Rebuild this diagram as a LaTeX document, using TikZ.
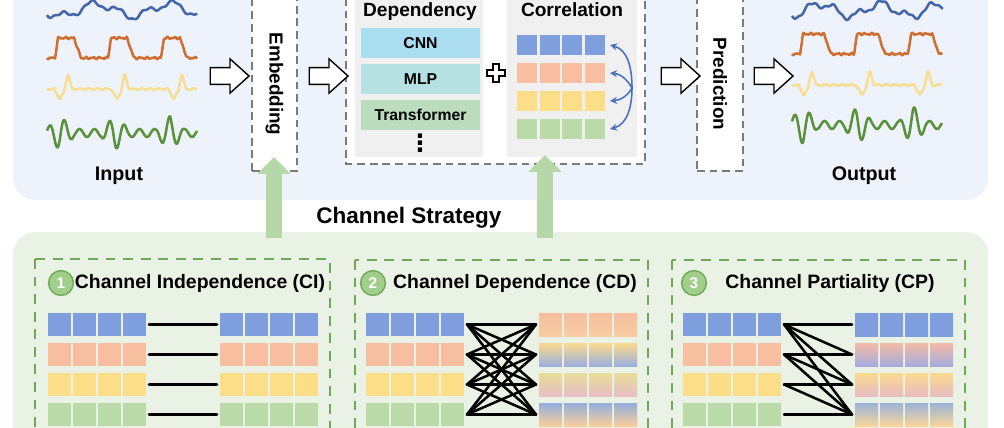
\documentclass[tikz,border=0pt]{standalone}
\usepackage{fontspec}
\setmainfont{Liberation Sans}
\newfontfamily\symfont{DejaVu Sans}
\usetikzlibrary{shapes.arrows, arrows.meta}

\definecolor{panelblue}{HTML}{EEF3FB}
\definecolor{panelgreen}{HTML}{E9F2E4}
\definecolor{subgray}{HTML}{F0F0F0}
\definecolor{cblue}{HTML}{7F9EDD}
\definecolor{corange}{HTML}{F7BE9F}
\definecolor{cyellow}{HTML}{FCDD88}
\definecolor{cgreen}{HTML}{BADBA8}
\definecolor{wblue}{HTML}{4466A8}
\definecolor{worange}{HTML}{CF6F32}
\definecolor{wyellow}{HTML}{F7DE92}
\definecolor{wgreen}{HTML}{5B913C}
\definecolor{dashgray}{HTML}{7A7A7A}
\definecolor{dashgreen}{HTML}{6FA957}
\definecolor{arrowgreen}{HTML}{B6D7A8}
\definecolor{corrblue}{HTML}{4A6FBF}
\definecolor{cnnblue}{HTML}{ABDDF1}
\definecolor{mlpteal}{HTML}{B5E1E2}
\definecolor{trgreen}{HTML}{BCDDBD}
\definecolor{numgreen}{HTML}{A2CE8C}

\newcommand\setfs[1]{\fontsize{#1}{#1}\selectfont\bfseries}

\tikzset{
  wave/.style={line width=1.8pt, line join=round},
  hollow/.style={single arrow, draw=black, fill=white, line width=1pt,
    minimum height=0.97cm, inner xsep=0pt, inner ysep=0.19cm,
    single arrow head extend=0.22cm, single arrow tip angle=84},
  dbox/.style={draw=dashgray, line width=1.4pt, dash pattern=on 5.5pt off 3.5pt},
  gbox/.style={draw=dashgreen, line width=1.6pt, dash pattern=on 7pt off 5.5pt},
  layer/.style={minimum width=2.975cm, minimum height=0.75cm, inner sep=0pt, font=\setfs{11.2}},
  garrow/.style={arrowgreen, line width=0.38cm, -{Triangle[width=0.8cm,length=0.42cm]}},
  corr/.style={corrblue, line width=1.1pt, -{Stealth[length=5pt,width=5pt]}},
  link/.style={black, line width=1.8pt, line cap=round},
  numc/.style={circle, fill=numgreen, draw=dashgreen, line width=1pt, text=white,
    minimum size=0.62cm, inner sep=0pt, font=\setfs{11}},
  title/.style={anchor=base, font=\setfs{13.8}},
}

\begin{document}
\begin{tikzpicture}[x=0.025cm, y=-0.025cm]
  \useasboundingbox (0,0) rectangle (1004,427);
  \clip (0,0) rectangle (1004,427);

  % panels
  \fill[panelblue, rounded corners=0.55cm] (13,-40) rectangle (988,200);
  \fill[panelgreen, rounded corners=0.55cm] (13,232) rectangle (988,470);
  \node[anchor=base, font=\setfs{16}] (strategy) at (409,223) {Channel Strategy};

  % input and output series
  \draw[wave, wblue] plot[domain=0:150, samples=300] ({47+\x},{10+6*sin(5*\x+20)+3.5*sin(13*\x+60)+sin(37*\x)});
  \draw[wave, worange] plot[domain=0:150, samples=300] ({47+\x},{58-20*max(0,min(1,mod(\x+45,53)/3,(26-mod(\x+45,53))/7))+0.7*sin(53*\x)+0.5*sin(89*\x)});
  \draw[wave, wyellow] plot[domain=0:150, samples=300] ({47+\x},{89+10*max(0,1-abs(mod(\x+15,57)-28)/6)-15*max(0,1-abs(mod(\x+15,57)-36)/4)+0.7*sin(41*\x)});
  \draw[wave, wgreen] plot[domain=0:150, samples=300] ({47+\x},{133-(4+13*max(0,1-abs(mod(\x+15,55)-28)/14))*sin(24*\x+30)});
  \node[anchor=base, font=\setfs{14}] (input) at (119,180) {Input};

  \draw[wave, wblue] plot[domain=0:151, samples=300] ({792+\x},{10+6*sin(6*\x+100)+3.5*sin(15*\x)+sin(41*\x)});
  \draw[wave, worange] plot[domain=0:150, samples=300] ({792+\x},{54-20*max(0,min(1,mod(\x+46,54)/3,(31-mod(\x+46,54))/7))+0.7*sin(53*\x)+0.5*sin(89*\x)});
  \draw[wave, wyellow] plot[domain=0:150, samples=300] ({792+\x},{85+10*max(0,1-abs(mod(\x+16,58)-28)/6)-14*max(0,1-abs(mod(\x+16,58)-36)/4)+0.7*sin(41*\x)});
  \draw[wave, wgreen] plot[domain=0:150, samples=300] ({792+\x},{125-(4+15*max(0,1-abs(mod(\x+17,55)-28)/14))*sin(24*\x+30)});
  \node[anchor=base, font=\setfs{14}] (output) at (864,180) {Output};

  % embedding and prediction
  \node[dbox, fill=white, minimum width=1.125cm, minimum height=5.3cm, anchor=south] (emb) at (274.5,172) {};
  \node[rotate=-90, font=\setfs{13.4}] (embtxt) at (274.5,84) {Embedding};
  \node[dbox, fill=white, minimum width=1.15cm, minimum height=5.3cm, anchor=south] (pred) at (720,172) {};
  \node[rotate=-90, font=\setfs{13.4}] (predtxt) at (720,84) {Prediction};

  % dependency and correlation
  \draw[dbox, fill=white] (346,-40) rectangle (645,164);
  \fill[subgray] (355,-40) rectangle (483,157);
  \fill[subgray] (507,-40) rectangle (637,157);
  \node[anchor=base, font=\setfs{13.6}] (dep) at (420,17) {Dependency};
  \node[anchor=base, font=\setfs{13.6}] (cor) at (572,17) {Correlation};
  \node[layer, fill=cnnblue] (cnn) at (420.5,43) {CNN};
  \node[layer, fill=mlpteal] (mlp) at (420.5,79) {MLP};
  \node[layer, fill=trgreen] (trans) at (420.5,115) {Transformer};
  \node[font=\symfont\fontsize{17}{17}\selectfont\bfseries] (dots) at (420,143) {⋮};

  \coordinate (plus) at (496,73);
  \draw[line width=1pt, fill=white] (plus) ++(-3,-9) -- ++(6,0) -- ++(0,6) -- ++(6,0) -- ++(0,6)
    -- ++(-6,0) -- ++(0,6) -- ++(-6,0) -- ++(0,-6) -- ++(-6,0) -- ++(0,-6) -- ++(6,0) -- cycle;

  \foreach \r/\c in {1/cblue,2/corange,3/cyellow,4/cgreen} {
    \foreach \i in {0,...,3}
      \fill[\c] (517+22.5*\i,7+28*\r) rectangle +(20,20);
    \coordinate (corR\r) at (610,17+28*\r);
  }
  \coordinate (hub) at (632,88);
  \draw[corr] (hub) to[out=90, in=-15] (corR1);
  \draw[corr] (hub) to[out=120, in=-5] (corR2);
  \draw[corr] (hub) to[out=-120, in=5] (corR3);
  \draw[corr] (hub) to[out=-90, in=15] (corR4);

  % flow arrows
  \node[hollow] (a1) at (225,76) {};
  \node[hollow] (a2) at (324,76) {};
  \node[hollow] (a3) at (676,76) {};
  \node[hollow] (a4) at (769,76) {};

  % channel strategies
  \draw[gbox] (35,259) rectangle (330,470);
  \draw[gbox] (355,260) rectangle (648,470);
  \draw[gbox] (672,260) rectangle (965,470);
  \node[numc] (n1) at (61,283) {1};
  \node[numc] (n2) at (373,283) {2};
  \node[numc] (n3) at (694,283) {3};
  \node[title] (t1) at (200,288) {Channel Independence (CI)};
  \node[title] (t2) at (515,288) {Channel Dependence (CD)};
  \node[title] (t3) at (830,288) {Channel Partiality (CP)};

  \foreach \r/\c in {1/cblue,2/corange,3/cyellow,4/cgreen} {
    \foreach \i in {0,...,3} {
      \fill[\c] (48+25*\i,283+30*\r) rectangle +(23,23);
      \fill[\c] (220+25*\i,283+30*\r) rectangle +(23,23);
      \fill[\c] (366+25*\i,283+30*\r) rectangle +(23,23);
      \fill[\c] (683+25*\i,283+30*\r) rectangle +(23,23);
    }
    \coordinate (ciL\r) at (149,294.5+30*\r);
    \coordinate (ciR\r) at (217,294.5+30*\r);
    \coordinate (cdL\r) at (467,294.5+30*\r);
    \coordinate (cdR\r) at (536,294.5+30*\r);
    \coordinate (cpL\r) at (784,294.5+30*\r);
    \coordinate (cpR\r) at (852,294.5+30*\r);
  }
  % mixed channels
  \foreach \x/\r/\ct/\cm/\cb in {539/1/F5BE9E/FADB8E/F8CDA4, 539/2/FADB8E/B9D7B0/9DAEDF,
                                 539/3/E6DE98/8FA8DD/E8BEC4, 539/4/93AEDD/C9B7D2/F9CF9C,
                                 855/1/7F9EDD/7F9EDD/7F9EDD, 855/2/F4BBA6/D6B2C2/A6ABDD,
                                 855/3/FADB8E/8FA8DD/E9BCC2, 855/4/9BB3D8/C5B8D0/F9D59A} {
    \definecolor{mixtop}{HTML}{\ct}
    \definecolor{mixmid}{HTML}{\cm}
    \definecolor{mixbot}{HTML}{\cb}
    \foreach \i in {0,...,3}
      \shade[top color=mixtop, middle color=mixmid, bottom color=mixbot]
        (\x+25*\i,283+30*\r) rectangle +(23,23);
  }

  \foreach \r in {1,...,4}
    \draw[link] (ciL\r) -- (ciR\r);
  \foreach \a in {1,...,4}
    \foreach \b in {1,...,4}
      \draw[link] (cdL\a) -- (cdR\b);
  \foreach \a in {1,...,4}
    \foreach \b in {\a,...,4}
      \draw[link] (cpL\a) -- (cpR\b);

  % strategy feeds
  \coordinate (embfoot) at (274,238);
  \coordinate (embin) at (274,157);
  \coordinate (corfoot) at (545,238);
  \coordinate (corin) at (545,155);
  \draw[garrow] (embfoot) -- (embin);
  \draw[garrow] (corfoot) -- (corin);
\end{tikzpicture}
\end{document}
